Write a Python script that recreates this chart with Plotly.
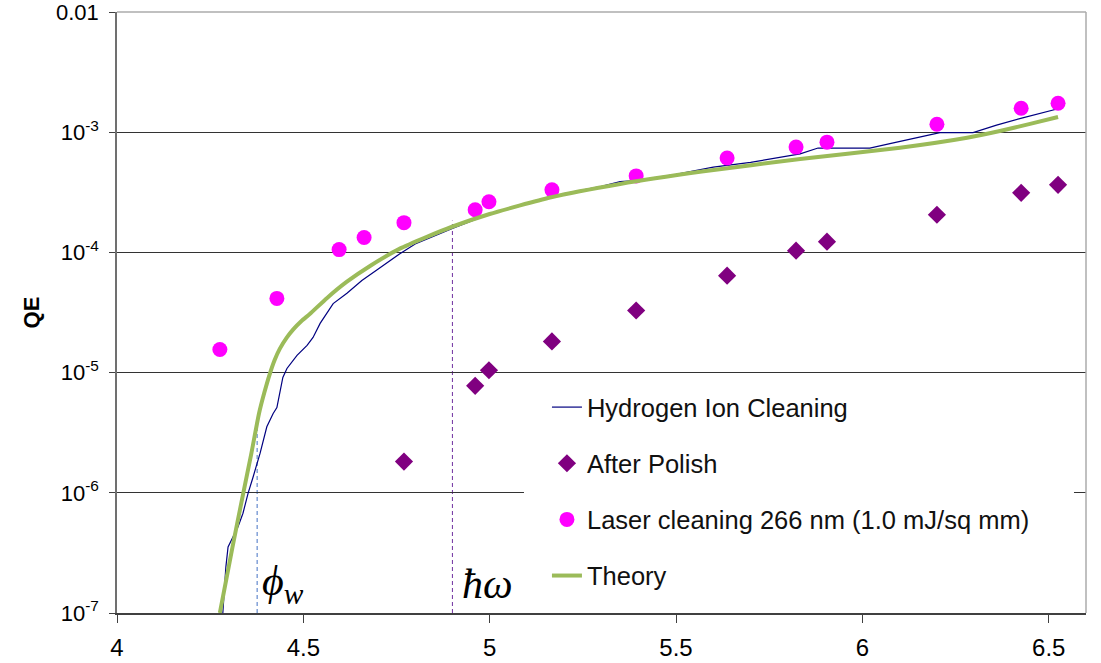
import plotly.graph_objects as go

# ---------------- data ----------------
hydrogen_x = [4.284, 4.292, 4.298, 4.303, 4.311, 4.325, 4.338, 4.352, 4.365, 4.384, 4.402,
              4.419, 4.429, 4.437, 4.445, 4.456, 4.483, 4.51, 4.526, 4.545, 4.563, 4.58,
              4.617, 4.657, 4.70, 4.759, 4.80, 4.83, 4.87, 4.90, 4.95, 5.0, 5.05, 5.1,
              5.2, 5.3, 5.35, 5.4, 5.5, 5.6, 5.7, 5.78, 5.833, 5.881, 5.913, 6.02,
              6.08, 6.14, 6.208, 6.297, 6.36, 6.43, 6.525]
hydrogen_log = [-7.0, -6.62, -6.45, -6.42, -6.37, -6.28, -6.17, -6.0, -5.87, -5.67, -5.45,
                -5.34, -5.29, -5.17, -5.04, -4.965, -4.856, -4.773, -4.707, -4.59, -4.50, -4.425,
                -4.34, -4.234, -4.14, -4.01, -3.93, -3.89, -3.84, -3.80, -3.74, -3.68, -3.64, -3.59,
                -3.51, -3.45, -3.41, -3.40, -3.35, -3.29, -3.25, -3.21, -3.18, -3.131, -3.131, -3.131,
                -3.09, -3.05, -3.003, -3.003, -2.94, -2.88, -2.804]
hydrogen_y = [10 ** v for v in hydrogen_log]

polish_x = [4.770, 4.961, 4.998, 5.167, 5.393, 5.637, 5.822, 5.905, 6.200, 6.426, 6.525]
polish_log = [-5.74, -5.11, -4.98, -4.74, -4.483, -4.193, -3.985, -3.91, -3.686, -3.504, -3.437]
polish_y = [10 ** v for v in polish_log]

laser_x = [4.276, 4.429, 4.596, 4.663, 4.770, 4.961, 4.998, 5.167, 5.393, 5.637, 5.822,
           5.905, 6.200, 6.426, 6.525]
laser_log = [-4.807, -4.382, -3.976, -3.876, -3.752, -3.644, -3.578, -3.479, -3.363, -3.214,
             -3.123, -3.082, -2.933, -2.800, -2.758]
laser_y = [10 ** v for v in laser_log]

theory_x = [4.276, 4.31, 4.339, 4.36, 4.381, 4.395, 4.409, 4.423, 4.437, 4.455, 4.473,
            4.495, 4.518, 4.563, 4.616, 4.68, 4.759, 4.83, 4.899, 5.0, 5.162, 5.35, 5.569,
            5.833, 6.101, 6.281, 6.369, 6.45, 6.525]
theory_log = [-7.0, -6.45, -6.0, -5.68, -5.34, -5.17, -5.02, -4.895, -4.80, -4.71, -4.64,
              -4.57, -4.51, -4.38, -4.245, -4.11, -3.968, -3.872, -3.786, -3.68, -3.543, -3.43,
              -3.327, -3.222, -3.128, -3.045, -2.989, -2.93, -2.873]
theory_y = [10 ** v for v in theory_log]

phi_w = 4.376      # work function marker
phi_top = 3.5e-6
hbar_omega = 4.90  # photon energy marker
hw_top = 1.84e-4

x_ticks = [4, 4.5, 5, 5.5, 6, 6.5]
x_ticktext = ["4", "4.5", "5", "5.5", "6", "6.5"]
y_ticks = [1e-7, 1e-6, 1e-5, 1e-4, 1e-3, 1e-2]
y_ticktext = ["10<sup>-7</sup>", "10<sup>-6</sup>", "10<sup>-5</sup>", "10<sup>-4</sup>",
              "10<sup>-3</sup>", "0.01"]

# ---------------- figure ----------------
fig = go.Figure()

fig.add_trace(go.Scatter(x=hydrogen_x, y=hydrogen_y, mode="lines", name="Hydrogen Ion Cleaning",
                         line=dict(color="#000080", width=1.2), legendgroup="a"))
fig.add_trace(go.Scatter(x=polish_x, y=polish_y, mode="markers", name="After Polish",
                         marker=dict(symbol="diamond", color="#800080", size=14), legendgroup="b"))
fig.add_trace(go.Scatter(x=laser_x, y=laser_y, mode="markers",
                         name="Laser cleaning 266 nm (1.0 mJ/sq mm)",
                         marker=dict(symbol="circle", color="#FF00FF", size=15), legendgroup="c"))
fig.add_trace(go.Scatter(x=theory_x, y=theory_y, mode="lines", name="Theory",
                         line=dict(color="#9BBB59", width=4, shape="spline", smoothing=0.5),
                         legendgroup="d"))

shapes = [
    # white panel behind the legend
    dict(type="rect", xref="paper", yref="paper", x0=0.42, x1=0.9876, y0=0.0216, y1=0.379,
         fillcolor="white", line=dict(width=0), layer="above"),
    # light border at top and right
    dict(type="line", xref="paper", yref="paper", x0=0, x1=1, y0=1, y1=1,
         line=dict(color="#ABABAB", width=1.5), layer="above"),
    dict(type="line", xref="paper", yref="paper", x0=1, x1=1, y0=0, y1=1,
         line=dict(color="#ABABAB", width=1.5), layer="above"),
    # dashed markers
    dict(type="line", xref="x", yref="y", x0=phi_w, x1=phi_w, y0=1e-7, y1=phi_top,
         line=dict(color="#4472C4", width=1, dash="4px,3px"), layer="below"),
    dict(type="line", xref="x", yref="y", x0=hbar_omega, x1=hbar_omega, y0=1e-7, y1=hw_top,
         line=dict(color="#7030A0", width=1, dash="4px,3px"), layer="below"),
]

annotations = [
    dict(x=4.385, y=0.048, xref="x", yref="paper", xanchor="left", yanchor="middle",
         text="<i>ϕ</i><sub><i>w</i></sub>", showarrow=False,
         font=dict(family="Liberation Serif", size=42, color="black")),
    dict(x=4.92, y=0.048, xref="x", yref="paper", xanchor="left", yanchor="middle",
         text="<i>ħω</i>", showarrow=False,
         font=dict(family="Liberation Serif", size=42, color="black")),
]

fig.update_layout(
    width=1101, height=663,
    margin=dict(l=117, r=15, t=12, b=50),
    paper_bgcolor="white", plot_bgcolor="white",
    font=dict(family="Liberation Sans", color="black"),
    shapes=shapes, annotations=annotations,
    showlegend=True,
    legend=dict(x=0.4437, y=0.381, xanchor="left", yanchor="top",
                bgcolor="rgba(255,255,255,1)", borderwidth=0,
                font=dict(family="Liberation Sans", size=25.5, color="#111111"),
                tracegroupgap=20, traceorder="grouped"),
    xaxis=dict(range=[4, 6.6], tickvals=x_ticks, ticktext=x_ticktext,
               ticks="outside", ticklen=8, tickcolor="#404040",
               showline=True, linecolor="#404040", linewidth=1.5,
               showgrid=False, zeroline=False, ticklabelstandoff=4, automargin=False,
               tickfont=dict(family="Liberation Sans", size=24, color="black")),
    yaxis=dict(type="log", range=[-7, -1.999], tickvals=y_ticks, ticktext=y_ticktext,
               ticks="outside", ticklen=6, tickcolor="#404040",
               showline=True, linecolor="#707070", linewidth=1.5,
               showgrid=True, gridcolor="#333333", gridwidth=1, zeroline=False,
               ticklabelstandoff=6, automargin=False, ticklabeloverflow="allow",
               tickfont=dict(family="Liberation Sans", size=22, color="black"),
               title=dict(text="<b>QE</b>", standoff=10,
                          font=dict(family="Liberation Sans", size=22, color="black"))),
)

fig.write_html("out.html")
